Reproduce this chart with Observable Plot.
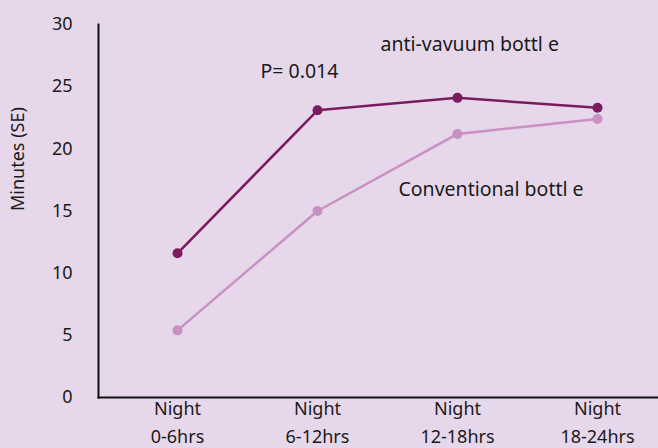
<!DOCTYPE html>
<html>
<head>
<meta charset="utf-8">
<script src="https://cdn.jsdelivr.net/npm/d3@7"></script>
<script src="https://cdn.jsdelivr.net/npm/@observablehq/plot@0.6"></script>
<style>
  html, body { margin: 0; padding: 0; background: #e7d7ea; }
  #chart { width: 658px; height: 448px; }
</style>
</head>
<body>
<div id="chart"></div>
<script>
const categories = ["Night\n0-6hrs", "Night\n6-12hrs", "Night\n12-18hrs", "Night\n18-24hrs"];
const antiVacuum = [11.6, 23.1, 24.1, 23.3];
const conventional = [5.4, 15.0, 21.2, 22.4];
const yTicks = [0, 5, 10, 15, 20, 25, 30];
const yLabel = "Minutes (SE)";
const pNote = [{cat: "Night\n6-12hrs", value: 26.2, text: "P= 0.014"}];
const antiNote = [{cat: "Night\n12-18hrs", value: 28.4, text: "anti-vavuum bottl e"}];
const convNote = [{cat: "Night\n12-18hrs", value: 16.7, text: "Conventional bottl e"}];

const dark = "#7a1b60";
const light = "#c890c3";
const ink = "#1a1a1a";
const font = "'Noto Sans', 'Open Sans', sans-serif";
const rows = (vals) => categories.map((c, i) => ({cat: c, value: vals[i]}));
const note = (data, dx) => Plot.text(data, {x: "cat", y: "value", text: "text", dx, textAnchor: "start", fontSize: 19.5, fill: ink});

const chart = Plot.plot({
  width: 658,
  height: 448,
  marginLeft: 98,
  marginRight: 0,
  marginTop: 24,
  marginBottom: 51,
  style: {background: "transparent", fontFamily: font, fontSize: "18px", color: ink},
  x: {type: "point", domain: categories, range: [176, 597], padding: 0},
  y: {domain: [0, 30], range: [397, 24]},
  marks: [
    Plot.axisY({ticks: yTicks, tickSize: 0, tickPadding: 26, label: null, fontSize: 18}),
    Plot.axisX({tickSize: 0, tickPadding: -2, label: null, fontSize: 18, lineHeight: 1.55}),
    Plot.text([yLabel], {frameAnchor: "left", rotate: -90, dx: -80, fontSize: 18, fill: ink}),
    Plot.frame({anchor: "left", stroke: "#111", strokeWidth: 2}),
    Plot.frame({anchor: "bottom", stroke: "#111", strokeWidth: 2}),
    Plot.line(rows(conventional), {x: "cat", y: "value", stroke: light, strokeWidth: 2.5}),
    Plot.dot(rows(conventional), {x: "cat", y: "value", fill: light, r: 5}),
    Plot.line(rows(antiVacuum), {x: "cat", y: "value", stroke: dark, strokeWidth: 2.5}),
    Plot.dot(rows(antiVacuum), {x: "cat", y: "value", fill: dark, r: 5}),
    note(pNote, -57),
    note(antiNote, -77),
    note(convNote, -59)
  ]
});
document.getElementById("chart").appendChild(chart);
</script>
</body>
</html>
